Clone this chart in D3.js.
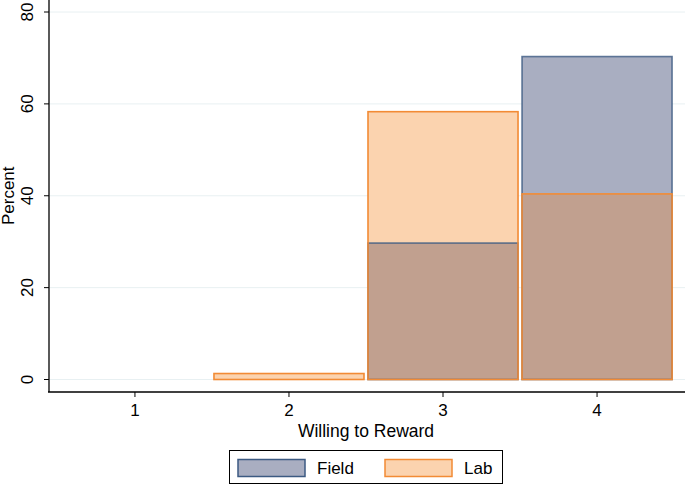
<!DOCTYPE html>
<html>
<head>
<meta charset="utf-8">
<script src="https://cdn.jsdelivr.net/npm/d3@7"></script>
<style>
  body { margin: 0; background: #fff; }
  text { font-family: "Liberation Sans", Arial, Helvetica, sans-serif; fill: #000; }
</style>
</head>
<body>
<script>
var categories = [1, 2, 3, 4];
var fieldPct = [0, 0, 29.7, 70.3];
var labPct = [0, 1.3, 58.3, 40.4];
var yTicks = [0, 20, 40, 60, 80];
var seriesNames = ["Field", "Lab"];

var W = 685, H = 485;
var svg = d3.select("body").append("svg")
  .attr("width", W)
  .attr("height", H);

var x = d3.scaleLinear().domain([0.442, 4.571]).range([49, 685]);
var y = d3.scaleLinear().domain([0, 80]).range([379.5, 12]);

var colField = { fill: "#a9aec1", stroke: "#3c5a82" };
var colLab = { fill: "#fbd3af", stroke: "#f28b35" };
var colBoth = "#c1a08f";

// grid
svg.append("g").selectAll("line")
  .data(yTicks)
  .enter().append("line")
  .attr("x1", 50).attr("x2", 685)
  .attr("y1", function(d){ return y(d); })
  .attr("y2", function(d){ return y(d); })
  .attr("stroke", "#e8f0f2").attr("stroke-width", 1);

var half = 0.487;
function bar(d, i) { return { c: categories[i], v: d }; }
var field = fieldPct.map(bar).filter(function(d){ return d.v > 0; });
var lab = labPct.map(bar).filter(function(d){ return d.v > 0; });
var both = categories.map(function(c, i){ return { c: c, v: Math.min(fieldPct[i], labPct[i]) }; })
  .filter(function(d){ return d.v > 0; });

function rects(data, fill, stroke, sw, op) {
  svg.append("g").selectAll("rect")
    .data(data)
    .enter().append("rect")
    .attr("x", function(d){ return x(d.c - half); })
    .attr("width", function(d){ return x(d.c + half) - x(d.c - half); })
    .attr("y", function(d){ return y(d.v); })
    .attr("height", function(d){ return y(0) - y(d.v); })
    .attr("fill", fill)
    .attr("stroke", stroke)
    .attr("stroke-width", sw)
    .attr("stroke-opacity", op);
}

rects(field, colField.fill, "none", 0, 1);
rects(lab, colLab.fill, "none", 0, 1);
rects(both, colBoth, "none", 0, 1);
rects(field, "none", colField.stroke, 1.6, 0.8);
rects(lab, "none", colLab.stroke, 1.6, 1);

// y axis
var yAxis = svg.append("g");
yAxis.append("line")
  .attr("x1", 49).attr("x2", 49).attr("y1", 0).attr("y2", 392)
  .attr("stroke", "#000").attr("stroke-width", 1.3);
yAxis.selectAll(".yt").data(yTicks).enter().append("line")
  .attr("x1", 44).attr("x2", 49)
  .attr("y1", function(d){ return y(d); })
  .attr("y2", function(d){ return y(d); })
  .attr("stroke", "#000");
yAxis.selectAll(".yl").data(yTicks).enter().append("text")
  .attr("transform", function(d){ return "translate(33," + y(d) + ") rotate(-90)"; })
  .attr("text-anchor", "middle")
  .attr("font-size", 17)
  .text(function(d){ return d; });
svg.append("text")
  .attr("transform", "translate(14," + y(40) + ") rotate(-90)")
  .attr("text-anchor", "middle")
  .attr("font-size", 17)
  .text("Percent");

// x axis
var xAxis = svg.append("g");
xAxis.append("line")
  .attr("x1", 48).attr("x2", 685).attr("y1", 392).attr("y2", 392)
  .attr("stroke", "#000").attr("stroke-width", 1.3);
xAxis.selectAll(".xt").data(categories).enter().append("line")
  .attr("x1", function(d){ return x(d); })
  .attr("x2", function(d){ return x(d); })
  .attr("y1", 392).attr("y2", 397)
  .attr("stroke", "#000");
xAxis.selectAll(".xl").data(categories).enter().append("text")
  .attr("x", function(d){ return x(d); })
  .attr("y", 416)
  .attr("text-anchor", "middle")
  .attr("font-size", 17)
  .text(function(d){ return d; });
svg.append("text")
  .attr("x", x(2.5)).attr("y", 437)
  .attr("text-anchor", "middle")
  .attr("font-size", 17.5)
  .text("Willing to Reward");

// legend
var leg = svg.append("g");
leg.append("rect")
  .attr("x", 229.5).attr("y", 450.5).attr("width", 273).attr("height", 33)
  .attr("fill", "#fff").attr("stroke", "#000").attr("stroke-width", 1);
var legItems = [
  { name: seriesNames[0], c: colField, x: 238 },
  { name: seriesNames[1], c: colLab, x: 385 }
];
leg.selectAll(".sw").data(legItems).enter().append("rect")
  .attr("x", function(d){ return d.x; })
  .attr("y", 459.5).attr("width", 67).attr("height", 17)
  .attr("fill", function(d){ return d.c.fill; })
  .attr("stroke", function(d){ return d.c.stroke; })
  .attr("stroke-width", 1.5);
leg.selectAll(".lt").data(legItems).enter().append("text")
  .attr("x", function(d){ return d.x + 79; })
  .attr("y", 474)
  .attr("font-size", 17)
  .text(function(d){ return d.name; });
</script>
</body>
</html>
